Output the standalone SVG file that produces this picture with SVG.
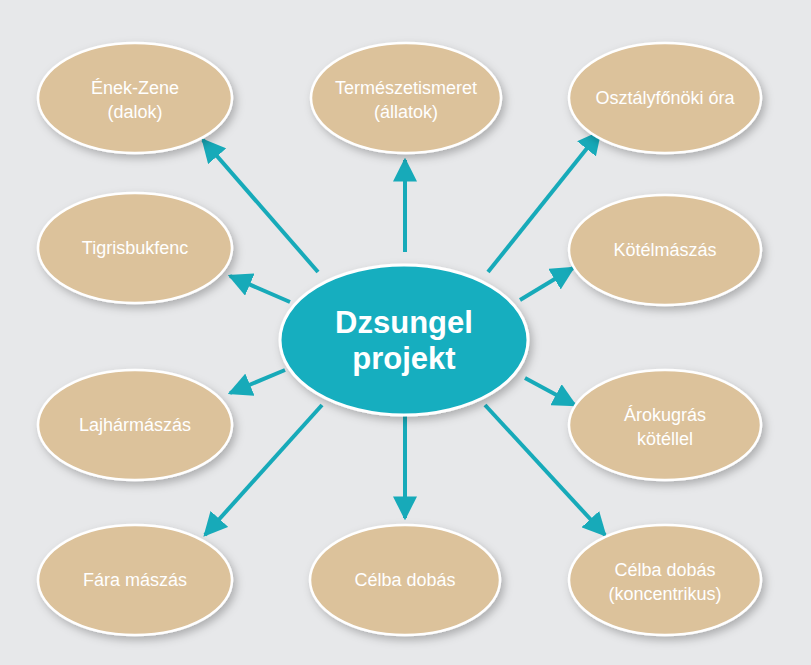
<svg xmlns="http://www.w3.org/2000/svg" width="811" height="665" viewBox="0 0 811 665">
<style>
.n{fill:#dcc29b;stroke:#fff;stroke-width:2.5}
.t{fill:#fff;font-family:"Liberation Sans",Arial,sans-serif;font-size:18px;text-anchor:middle}
.c{fill:#fff;font-family:"Liberation Sans",Arial,sans-serif;font-size:31px;font-weight:bold;text-anchor:middle}
.e line{stroke:#17aab9;stroke-width:4}
</style>
<defs>
<marker id="a" viewBox="0 0 10 10" refX="9" refY="5" markerWidth="6" markerHeight="6" markerUnits="strokeWidth" orient="auto"><path d="M0,0L10,5L0,10z" fill="#17aab9"/></marker>
<filter id="s" x="-20%" y="-20%" width="150%" height="150%"><feDropShadow dx="3" dy="4" stdDeviation="4" flood-color="#000" flood-opacity="0.25"/></filter>
</defs>
<rect width="811" height="665" fill="#e7e8ea"/>
<g class="e">
<line x1="318" y1="272" x2="203" y2="140" marker-end="url(#a)"/>
<line x1="405" y1="252" x2="405" y2="160" marker-end="url(#a)"/>
<line x1="488" y1="272" x2="600" y2="132" marker-end="url(#a)"/>
<line x1="290" y1="302" x2="230" y2="276" marker-end="url(#a)"/>
<line x1="520" y1="300" x2="573" y2="268" marker-end="url(#a)"/>
<line x1="285" y1="370" x2="230" y2="393" marker-end="url(#a)"/>
<line x1="525" y1="378" x2="575" y2="405" marker-end="url(#a)"/>
<line x1="322" y1="405" x2="205" y2="535" marker-end="url(#a)"/>
<line x1="405" y1="415" x2="405" y2="518" marker-end="url(#a)"/>
<line x1="485" y1="405" x2="605" y2="535" marker-end="url(#a)"/>
</g>
<g id="n1"><ellipse class="n" filter="url(#s)" cx="135" cy="98" rx="97" ry="55"/><text class="t" x="135" y="94">Ének-Zene</text><text class="t" x="135" y="118">(dalok)</text></g>
<g id="n2"><ellipse class="n" filter="url(#s)" cx="406" cy="98" rx="95" ry="55"/><text class="t" x="406" y="94">Természetismeret</text><text class="t" x="406" y="118">(állatok)</text></g>
<g id="n3"><ellipse class="n" filter="url(#s)" cx="665" cy="98" rx="96" ry="55"/><text class="t" x="665" y="104">Osztályfőnöki óra</text></g>
<g id="n4"><ellipse class="n" filter="url(#s)" cx="135" cy="248" rx="97" ry="55"/><text class="t" x="135" y="254">Tigrisbukfenc</text></g>
<g id="n5"><ellipse class="n" filter="url(#s)" cx="665" cy="250" rx="96" ry="55"/><text class="t" x="665" y="256">Kötélmászás</text></g>
<g id="n6"><ellipse class="n" filter="url(#s)" cx="135" cy="425" rx="97" ry="55"/><text class="t" x="135" y="431">Lajhármászás</text></g>
<g id="n7"><ellipse class="n" filter="url(#s)" cx="665" cy="425" rx="96" ry="55"/><text class="t" x="665" y="421">Árokugrás</text><text class="t" x="665" y="445">kötéllel</text></g>
<g id="n8"><ellipse class="n" filter="url(#s)" cx="135" cy="580" rx="97" ry="55"/><text class="t" x="135" y="586">Fára mászás</text></g>
<g id="n9"><ellipse class="n" filter="url(#s)" cx="405" cy="580" rx="95" ry="55"/><text class="t" x="405" y="586">Célba dobás</text></g>
<g id="n10"><ellipse class="n" filter="url(#s)" cx="665" cy="580" rx="96" ry="55"/><text class="t" x="665" y="576">Célba dobás</text><text class="t" x="665" y="600">(koncentrikus)</text></g>
<g id="center"><ellipse fill="#17aebf" stroke="#fff" stroke-width="3" filter="url(#s)" cx="404" cy="340" rx="124" ry="75"/><text class="c" x="404" y="333">Dzsungel</text><text class="c" x="404" y="369">projekt</text></g>
</svg>
